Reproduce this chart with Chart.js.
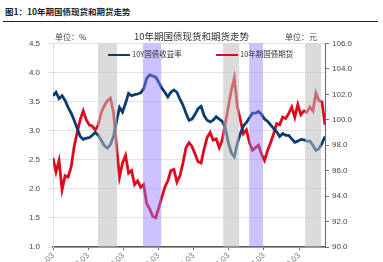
<!DOCTYPE html>
<html>
<head>
<meta charset="utf-8">
<script src="https://cdn.jsdelivr.net/npm/chart.js@4.4.1/dist/chart.umd.min.js"></script>
<style>
  body { margin: 0; background: #fff; width: 383px; height: 262px; overflow: hidden; position: relative;
         font-family: "Noto Sans CJK SC", "Liberation Sans", sans-serif; }
  #hdr { position: absolute; left: 5px; top: 5px; font-size: 8.5px; font-weight: bold; color: #222; }
  #rule { position: absolute; left: 3px; top: 21px; width: 375px; height: 1px; background: #222; }
  #wrap { position: absolute; left: 0; top: 22px; width: 383px; height: 240px; }
  .lg { position: absolute; top: 26px; font-size: 7.5px; color: #333; white-space: nowrap; }
  .lg i { display: inline-block; width: 22px; height: 2.5px; vertical-align: middle; margin-right: 2px; }
</style>
</head>
<body>
<div id="hdr">图1：10年期国债现货和期货走势</div>
<div id="rule"></div>
<div id="wrap">
  <canvas id="c"></canvas>
  <div class="lg" style="left:108px"><i style="background:#0b3c6e"></i>10Y国债收益率</div>
  <div class="lg" style="left:216px"><i style="background:#e00a1e"></i>10年期国债期货</div>
</div>
<script>
// 10Y yield (%), left axis
const yields = [3.6, 3.66, 3.55, 3.6, 3.52, 3.4, 3.3, 3.18, 3.04, 2.9, 2.85, 2.87, 2.88, 2.92, 2.97, 2.92,
  2.83, 2.74, 2.7, 2.76, 2.9, 3.15, 3.4, 3.32, 3.47, 3.64, 3.6, 3.62, 3.63, 3.65, 3.72, 3.9, 3.96, 3.94,
  3.92, 3.83, 3.73, 3.66, 3.58, 3.66, 3.7, 3.66, 3.54, 3.44, 3.3, 3.18, 3.2, 3.28, 3.38, 3.42, 3.26, 3.18,
  3.15, 3.18, 3.24, 3.2, 3.16, 3.05, 2.8, 2.62, 2.55, 2.78, 2.95, 3.08, 3.14, 3.22, 3.3, 3.3, 3.33, 3.28,
  3.2, 3.16, 3.1, 3.04, 2.98, 2.9, 2.95, 2.92, 2.92, 2.86, 2.8, 2.82, 2.85, 2.84, 2.82, 2.82, 2.75, 2.66,
  2.69, 2.78, 2.9];
// 10Y futures price (元), right axis
const futures = [97.0, 95.9, 96.8, 94.5, 95.6, 95.5, 96.3, 97.9, 99.0, 100.0, 100.7, 100.0, 99.6, 99.5,
  99.2, 99.6, 100.6, 101.1, 101.5, 101.7, 100.6, 98.0, 95.5, 96.6, 97.2, 95.8, 96.0, 94.9, 95.2, 94.7,
  94.9, 93.4, 93.0, 92.4, 92.3, 93.1, 93.9, 94.7, 95.2, 96.0, 96.1, 95.1, 95.6, 96.6, 97.8, 98.2, 97.9,
  97.3, 96.7, 96.6, 97.7, 98.6, 99.0, 98.4, 98.5, 97.8, 98.4, 99.7, 101.0, 102.3, 103.3, 101.0, 100.0,
  98.9, 99.2, 98.2, 97.6, 97.8, 98.0, 97.3, 96.8, 97.6, 98.2, 98.9, 99.7, 99.6, 100.2, 100.1, 100.5,
  101.0, 100.2, 101.2, 100.4, 100.7, 100.6, 101.0, 100.7, 102.1, 101.5, 101.4, 99.6];

const tickAt = [0, 11.6, 23.2, 34.8, 46.4, 58, 69.8, 81.4];
const tickLabels = ['2011-03', '2012-03', '2013-03', '2014-03', '2015-03', '2016-03', '2017-03', '2018-03'];

// shaded periods, in sample index units
const grayBands = [[14.9, 21.2], [56.3, 61.6], [83.4, 88.7]];
const purpleBands = [[29.8, 35.8], [64.9, 69.5]];

const bandPlugin = {
  id: 'bands',
  afterDatasetsDraw(chart) {
    const { ctx, chartArea: a, scales: { x } } = chart;
    ctx.save();
    const fill = (list, color) => {
      ctx.fillStyle = color;
      list.forEach(b => {
        const x0 = x.getPixelForValue(b[0]);
        const x1 = x.getPixelForValue(b[1]);
        ctx.fillRect(x0, a.top, x1 - x0, a.bottom - a.top);
      });
    };
    fill(grayBands, 'rgba(190,190,190,0.55)');
    fill(purpleBands, 'rgba(140,120,255,0.45)');
    ctx.restore();
  },
  afterDraw(chart) {
    const { ctx, chartArea: a } = chart;
    ctx.save();
    ctx.font = '8px "Noto Sans CJK SC"';
    ctx.fillStyle = '#444';
    ctx.textBaseline = 'middle';
    ctx.textAlign = 'left';
    ctx.fillText('单位：%', a.left + 2, 15);
    ctx.textAlign = 'right';
    ctx.fillText('单位：元', a.right - 8, 15);
    ctx.restore();
  }
};

const tickFont = { family: 'Liberation Sans', size: 8 };

new Chart(document.getElementById('c'), {
  type: 'line',
  data: {
    datasets: [{
      label: '10Y国债收益率',
      data: yields.map((v, i) => ({ x: i, y: v })),
      borderColor: '#0b3c6e',
      borderWidth: 2.8,
      pointRadius: 0,
      tension: 0,
      yAxisID: 'y'
    }, {
      label: '10年期国债期货',
      data: futures.map((v, i) => ({ x: i, y: v })),
      borderColor: '#e00a1e',
      borderWidth: 2.8,
      pointRadius: 0,
      tension: 0,
      yAxisID: 'y1'
    }]
  },
  options: {
    responsive: true,
    maintainAspectRatio: false,
    animation: false,
    layout: { padding: 0 },
    plugins: {
      legend: { display: false },
      tooltip: { enabled: false },
      title: {
        display: true,
        text: '10年期国债现货和期货走势',
        color: '#333',
        font: { family: 'Noto Sans CJK SC', size: 9.5, weight: 'normal' },
        padding: { top: 9, bottom: 1 }
      }
    },
    scales: {
      x: {
        type: 'linear',
        min: 0,
        max: yields.length - 1,
        afterBuildTicks(s) { s.ticks = tickAt.map(v => ({ value: v })); },
        afterFit(s) { s.height = 15; },
        grid: { drawOnChartArea: false, tickLength: 3, color: '#666' },
        border: { color: '#555', width: 1.5 },
        ticks: {
          autoSkip: false,
          minRotation: 45,
          maxRotation: 45,
          padding: 1,
          color: '#777',
          font: tickFont,
          callback: (v, i) => tickLabels[i]
        }
      },
      y: {
        position: 'left',
        min: 1,
        max: 4.5,
        afterFit(s) { s.width = 53; },
        grid: { color: '#e4e4e4', tickLength: 5, tickColor: '#ddd' },
        border: { color: '#ddd' },
        ticks: { stepSize: 0.5, padding: 8, color: '#444', font: tickFont, callback: v => v.toFixed(1) }
      },
      y1: {
        position: 'right',
        min: 90,
        max: 106,
        afterFit(s) { s.width = 58; },
        grid: { drawOnChartArea: false, tickLength: 4, color: '#777' },
        border: { color: '#666', width: 1 },
        ticks: { stepSize: 2, padding: 3, color: '#444', font: tickFont, callback: v => v.toFixed(1) }
      }
    }
  },
  plugins: [bandPlugin]
});
</script>
</body>
</html>
